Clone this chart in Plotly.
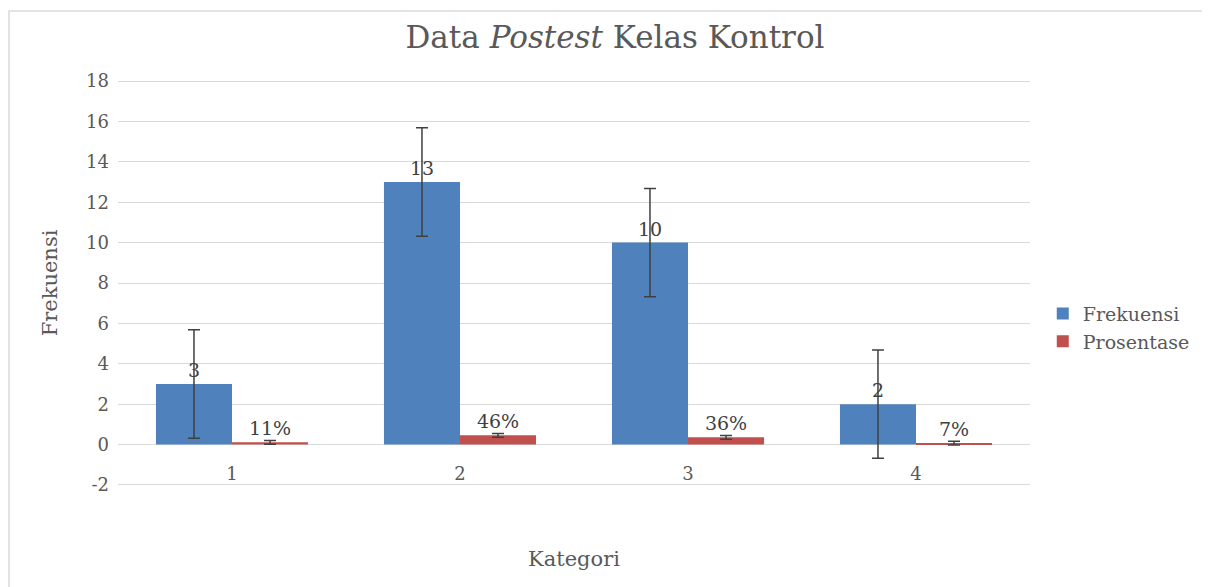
import plotly.graph_objects as go

categories = ["1", "2", "3", "4"]
frekuensi = [3, 13, 10, 2]
prosentase = [0.11, 0.46, 0.36, 0.07]
frek_labels = ["3", "13", "10", "2"]
pros_labels = ["11%", "46%", "36%", "7%"]
frek_err = [2.68, 2.68, 2.68, 2.68]
pros_err = [0.095, 0.095, 0.095, 0.095]
y_ticks = [-2, 0, 2, 4, 6, 8, 10, 12, 14, 16, 18]
y_ticktext = ["-2", "0", "2", "4", "6", "8", "10", "12", "14", "16", "18"]

FONT = "DejaVu Serif"
TXT = "#595959"

W, H = 1202, 579
ML, MR, MT, MB = 110, 180, 72, 101
PW, PH = W - ML - MR, H - MT - MB

fig = go.Figure()
fig.add_trace(go.Bar(
    x=categories, y=frekuensi, name="Frekuensi",
    marker=dict(color="#4F81BD", line=dict(width=0)),
    text=frek_labels, textposition="outside", cliponaxis=False,
    textfont=dict(family=FONT, size=19, color="#404040"),
    error_y=dict(type="data", array=frek_err, visible=True,
                 color="#404040", thickness=1.5, width=6),
))
fig.add_trace(go.Bar(
    x=categories, y=prosentase, name="Prosentase",
    marker=dict(color="#C0504D", line=dict(width=0)),
    text=pros_labels, textposition="outside", cliponaxis=False,
    textfont=dict(family=FONT, size=19, color="#404040"),
    error_y=dict(type="data", array=pros_err, visible=True,
                 color="#404040", thickness=1.5, width=6),
))

fig.update_layout(
    width=W, height=H,
    margin=dict(l=ML, r=MR, t=MT, b=MB),
    paper_bgcolor="white", plot_bgcolor="white",
    barmode="group", bargap=0.333, bargroupgap=0,
    font=dict(family=FONT, color=TXT, size=18),
    title=dict(text="Data <i>Postest</i> Kelas Kontrol",
               x=(607 - ML) / PW, xref="paper", xanchor="center",
               y=1 - 29 / H, yanchor="middle",
               font=dict(family=FONT, size=31, color=TXT)),
    legend=dict(x=1.014, xanchor="left", y=0.39, yanchor="middle",
                font=dict(family=FONT, size=19, color=TXT),
                itemwidth=30, tracegroupgap=0),
    shapes=[dict(type="rect", xref="paper", yref="paper",
                 x0=(1 - ML) / PW, x1=1.5, y0=-0.5, y1=(PH + MT - 3) / PH,
                 line=dict(color="#e3e3e3", width=2), fillcolor="rgba(0,0,0,0)",
                 layer="below")],
)
fig.update_xaxes(
    type="category", showgrid=False, zeroline=False, showline=False,
    ticks="", tickfont=dict(family=FONT, size=18, color=TXT),
    ticklabelstandoff=-25,
    title=dict(text="Kategori", font=dict(family=FONT, size=21, color=TXT), standoff=68),
)
fig.update_yaxes(
    range=[-2.05, 18.05], tickvals=y_ticks, ticktext=y_ticktext,
    showgrid=True, gridcolor="#d9d9d9", gridwidth=1.3,
    zeroline=True, zerolinecolor="#d9d9d9", zerolinewidth=1.3,
    showline=False, ticks="", ticklabelstandoff=8,
    tickfont=dict(family=FONT, size=18, color=TXT),
    title=dict(text="Frekuensi", font=dict(family=FONT, size=21, color=TXT), standoff=22),
)

fig.write_html("out.html")
